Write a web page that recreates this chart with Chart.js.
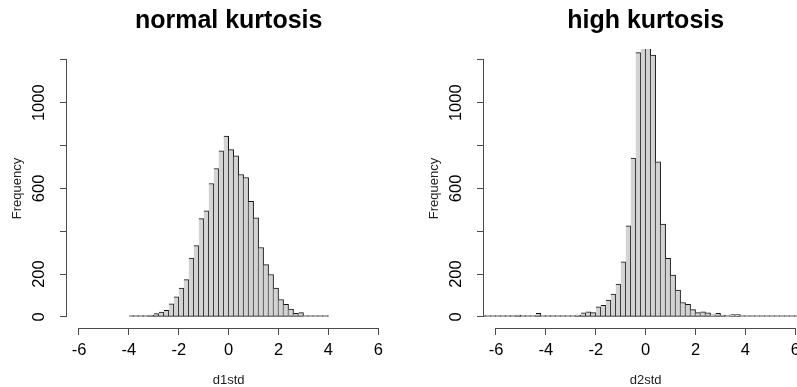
<!DOCTYPE html>
<html>
<head>
<meta charset="utf-8">
<script src="https://cdn.jsdelivr.net/npm/chart.js@4.4.1/dist/chart.umd.min.js"></script>
<style>
  html, body { margin: 0; padding: 0; background: #fff; overflow: hidden; }
  #wrap { position: relative; width: 797px; height: 387px; overflow: hidden; }
  canvas { position: absolute; top: 0; }
  #normalChart { left: 0; }
  #highChart { left: 417px; }
</style>
</head>
<body>
<div id="wrap">
  <canvas id="normalChart" width="400" height="387"></canvas>
  <canvas id="highChart" width="400" height="387"></canvas>
</div>
<script>
// histogram bins are 0.2 wide; values below are the bin centres
const normalMids = [-3.9, -3.7, -3.5, -3.3, -3.1, -2.9, -2.7, -2.5, -2.3, -2.1,
                    -1.9, -1.7, -1.5, -1.3, -1.1, -0.9, -0.7, -0.5, -0.3, -0.1,
                     0.1,  0.3,  0.5,  0.7,  0.9,  1.1,  1.3,  1.5,  1.7,  1.9,
                     2.1,  2.3,  2.5,  2.7,  2.9,  3.1,  3.3,  3.5,  3.7,  3.9];
const normalCounts = [1, 2, 3, 5, 8, 15, 22, 31, 61, 93,
                      135, 174, 274, 333, 459, 495, 623, 693, 775, 844,
                      781, 752, 665, 651, 540, 462, 324, 244, 198, 135,
                      81, 59, 36, 16, 20, 6, 5, 3, 2, 1];

const highMids = [-6.5, -6.3, -6.1, -5.9, -5.7, -5.5, -5.3, -5.1, -4.9, -4.7, -4.5,
                  -4.3, -4.1, -3.9, -3.7, -3.5, -3.3, -3.1, -2.9, -2.7, -2.5, -2.3,
                  -2.1, -1.9, -1.7, -1.5, -1.3, -1.1, -0.9, -0.7, -0.5, -0.3, -0.1,
                   0.1,  0.3,  0.5,  0.7,  0.9,  1.1,  1.3,  1.5,  1.7,  1.9,  2.1,
                   2.3,  2.5,  2.7,  2.9,  3.1,  3.3,  3.5,  3.7,  3.9,  4.1,  4.3,
                   4.5,  4.7,  4.9,  5.1,  5.3,  5.5,  5.7,  5.9,  6.1,  6.3,  6.5];
const highCounts = [1, 1, 1, 2, 5, 2, 3, 8, 2, 2, 3,
                    16, 2, 3, 3, 4, 5, 5, 6, 8, 19, 23,
                    20, 47, 54, 78, 106, 153, 257, 425, 742, 1234, 1760,
                    1710, 1223, 724, 433, 273, 195, 125, 67, 58, 34, 20,
                    23, 19, 9, 16, 8, 6, 11, 11, 5, 3, 2,
                    3, 2, 2, 1, 2, 1, 3, 1, 1, 2, 1];

const xTicks = [-6, -4, -2, 0, 2, 4, 6];
const yTicks = [0, 200, 400, 600, 800, 1000, 1200];
const yLabelsShown = [0, 200, 600, 1000];

const FONT = "'Liberation Sans', Arial, Helvetica, sans-serif";
const AXIS = '#4a4a4a';

// axis lines run only between the first and last tick
const axisLines = {
  id: 'axisLines',
  afterDraw(chart) {
    const { ctx, scales: { x, y } } = chart;
    ctx.save();
    ctx.strokeStyle = AXIS;
    ctx.lineWidth = 1;
    ctx.beginPath();
    const by = Math.round(x.top) + 0.5;
    ctx.moveTo(x.getPixelForValue(xTicks[0]), by);
    ctx.lineTo(x.getPixelForValue(xTicks[xTicks.length - 1]), by);
    const lx = Math.round(y.right) - 0.5;
    ctx.moveTo(lx, y.getPixelForValue(yTicks[0]));
    ctx.lineTo(lx, y.getPixelForValue(yTicks[yTicks.length - 1]));
    ctx.stroke();
    ctx.restore();
  }
};

function makeHist(id, title, xTitle, mids, counts) {
  new Chart(document.getElementById(id), {
    type: 'bar',
    data: {
      datasets: [{
        data: mids.map((m, i) => ({ x: m, y: counts[i] })),
        backgroundColor: '#d3d3d3',
        borderColor: '#111',
        borderWidth: 1,
        borderSkipped: 'left',
        barPercentage: 1,
        categoryPercentage: 1,
        minBarLength: 1.3,
        clip: 0
      }]
    },
    options: {
      responsive: false,
      animation: false,
      layout: { padding: { left: 0, right: 9.7, top: 0, bottom: 0 } },
      plugins: {
        legend: { display: false },
        tooltip: { enabled: false },
        title: {
          display: true,
          text: title,
          fullSize: false,
          color: '#000',
          font: { family: FONT, size: 25, weight: 'bold', lineHeight: 1.2 },
          padding: { top: 6, bottom: 13 }
        }
      },
      scales: {
        x: {
          type: 'linear',
          min: -6.48,
          max: 6.48,
          offset: false,
          afterBuildTicks: s => { s.ticks = xTicks.map(v => ({ value: v })); },
          afterFit: s => { s.height = 59; },
          grid: { offset: false, drawOnChartArea: false, drawTicks: true, tickLength: 7, color: AXIS },
          border: { display: false },
          ticks: {
            color: '#000',
            font: { family: FONT, size: 16.5 },
            padding: 5.7,
            minRotation: 0,
            maxRotation: 0,
            autoSkip: false
          },
          title: {
            display: true,
            text: xTitle,
            color: '#222',
            font: { family: FONT, size: 13, lineHeight: 1 },
            padding: { top: 0, bottom: 0.5 }
          }
        },
        y: {
          type: 'linear',
          min: -52,
          max: 1251,
          afterBuildTicks: s => { s.ticks = yTicks.map(v => ({ value: v })); },
          afterFit: s => { s.width = 67; },
          grid: { drawOnChartArea: false, drawTicks: true, tickLength: 7, color: AXIS },
          border: { display: false },
          ticks: {
            color: '#000',
            font: { family: FONT, size: 16.5 },
            padding: 1.75,
            minRotation: 90,
            maxRotation: 90,
            crossAlign: 'center',
            autoSkip: false,
            callback: v => yLabelsShown.includes(v) ? String(v) : ''
          },
          title: {
            display: true,
            text: 'Frequency',
            color: '#222',
            font: { family: FONT, size: 13, lineHeight: 1 },
            padding: { top: 10.5, bottom: 0 }
          }
        }
      }
    },
    plugins: [axisLines]
  });
}

makeHist('normalChart', 'normal kurtosis', 'd1std', normalMids, normalCounts);
makeHist('highChart', 'high kurtosis', 'd2std', highMids, highCounts);
</script>
</body>
</html>
